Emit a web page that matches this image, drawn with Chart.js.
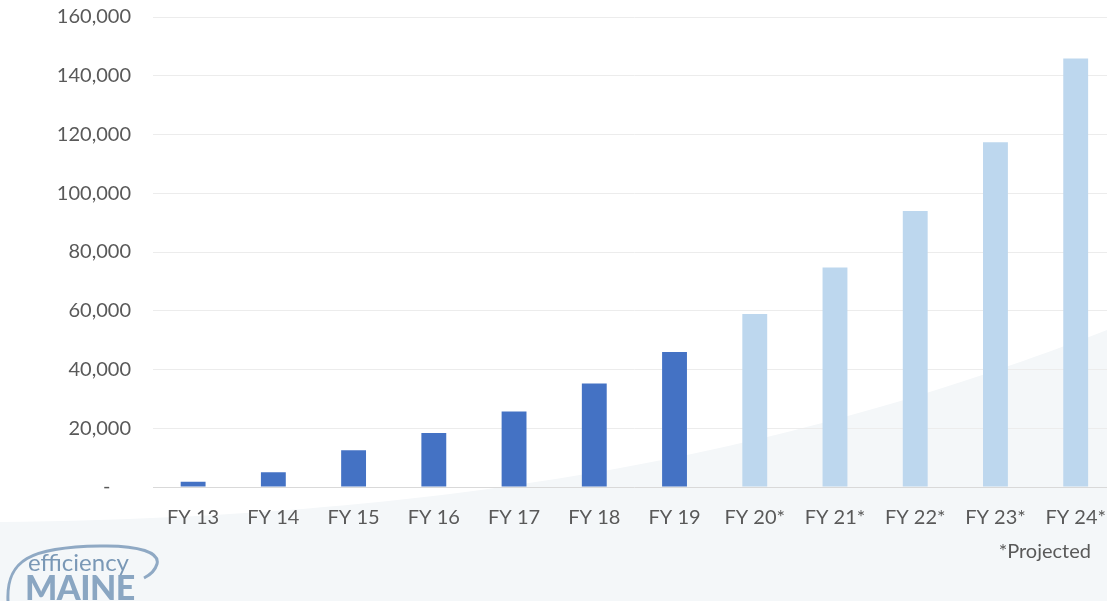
<!DOCTYPE html>
<html>
<head>
  <title>Efficiency Maine chart</title>
  <script src="https://cdn.jsdelivr.net/npm/chart.js"></script>
  <style>
    body {
      margin: 0;
      background: #fff;
      overflow: hidden;
      width: 1107px;
      height: 601px;
      position: relative;
      font-family: Lato, "Noto Sans", sans-serif;
    }
    #wrap {
      position: absolute;
      left: 0;
      top: 0;
      width: 1117px;
      height: 601px;
    }
    .note {
      position: absolute;
      right: 16px;
      top: 538px;
      font-size: 20px;
      color: #595959;
    }
    .logo {
      position: absolute;
      left: 0;
      top: 540px;
      width: 200px;
      height: 61px;
      overflow: hidden;
    }
    .logo .eff {
      position: absolute;
      left: 28px;
      top: 7px;
      font-size: 24px;
      color: #7a98b6;
    }
    .logo .maine {
      position: absolute;
      left: 25px;
      top: 30px;
      font-size: 34px;
      font-weight: 900;
      letter-spacing: -0.5px;
      color: #8aa6c2;
      line-height: 1;
    }
    .logo svg {
      position: absolute;
      left: 0;
      top: 0;
    }
  </style>
</head>
<body>

  <div id="wrap"><canvas id="fyChart"></canvas></div>

  <div class="note">*Projected</div>

  <div class="logo">
    <svg width="200" height="61">
      <path d="M 8,61 C 6,20 30,7 100,6 C 140,5 160,13 157,24 C 155,31 150,35 144,38" fill="none" stroke="#8fa9c4" stroke-width="3"/>
    </svg>
    <div class="eff">efficiency</div>
    <div class="maine">MAINE</div>
  </div>

  <script>
    // values
    const fiscalYears = ['FY 13', 'FY 14', 'FY 15', 'FY 16', 'FY 17', 'FY 18', 'FY 19',
                         'FY 20*', 'FY 21*', 'FY 22*', 'FY 23*', 'FY 24*'];
    const totals = [1800, 5000, 12500, 18400, 25700, 35200, 46000,
                    58900, 74700, 94000, 117400, 145900];
    const isProjected = [false, false, false, false, false, false, false,
                         true, true, true, true, true];
    const yMax = 160000;
    const yStep = 20000;

    const barColors = isProjected.map(p => p ? '#bdd7ee' : '#4472c4');

    // pale swoosh behind the plot
    const backdrop = {
      id: 'backdrop',
      beforeDraw(chart) {
        const ctx = chart.ctx;
        ctx.save();
        ctx.fillStyle = '#f4f7f9';
        ctx.beginPath();
        ctx.moveTo(0, 522);
        ctx.bezierCurveTo(540, 517, 860, 425, 1107, 330);
        ctx.lineTo(1117, 324);
        ctx.lineTo(1117, 601);
        ctx.lineTo(0, 601);
        ctx.closePath();
        ctx.fill();
        ctx.restore();
      }
    };

    new Chart(document.getElementById('fyChart'), {
      type: 'bar',
      data: {
        labels: fiscalYears,
        datasets: [{
          data: totals,
          backgroundColor: barColors,
          barPercentage: 0.31,
          categoryPercentage: 1.0
        }]
      },
      options: {
        responsive: true,
        maintainAspectRatio: false,
        animation: false,
        layout: { padding: { top: 17, right: 0, bottom: 0, left: 0 } },
        plugins: {
          legend: { display: false },
          tooltip: { enabled: false }
        },
        scales: {
          x: {
            grid: { display: false },
            border: { display: false },
            ticks: {
              color: '#595959',
              font: { family: 'Lato', size: 20 },
              padding: 11,
              maxRotation: 0,
              autoSkip: false
            },
            afterFit(scale) { scale.height = 114; }
          },
          y: {
            min: 0,
            max: yMax,
            grid: {
              tickLength: 22,
              tickColor: 'rgba(0,0,0,0)',
              color: c => c.tick && c.tick.value === 0 ? '#d9d9d9' : '#ececec'
            },
            border: { display: false },
            ticks: {
              stepSize: yStep,
              color: '#595959',
              font: { family: 'Lato', size: 20 },
              padding: 0,
              callback: v => v === 0 ? '-    ' : v.toLocaleString('en-US')
            },
            afterFit(scale) { scale.width = 153; }
          }
        }
      },
      plugins: [backdrop]
    });
  </script>

</body>
</html>
